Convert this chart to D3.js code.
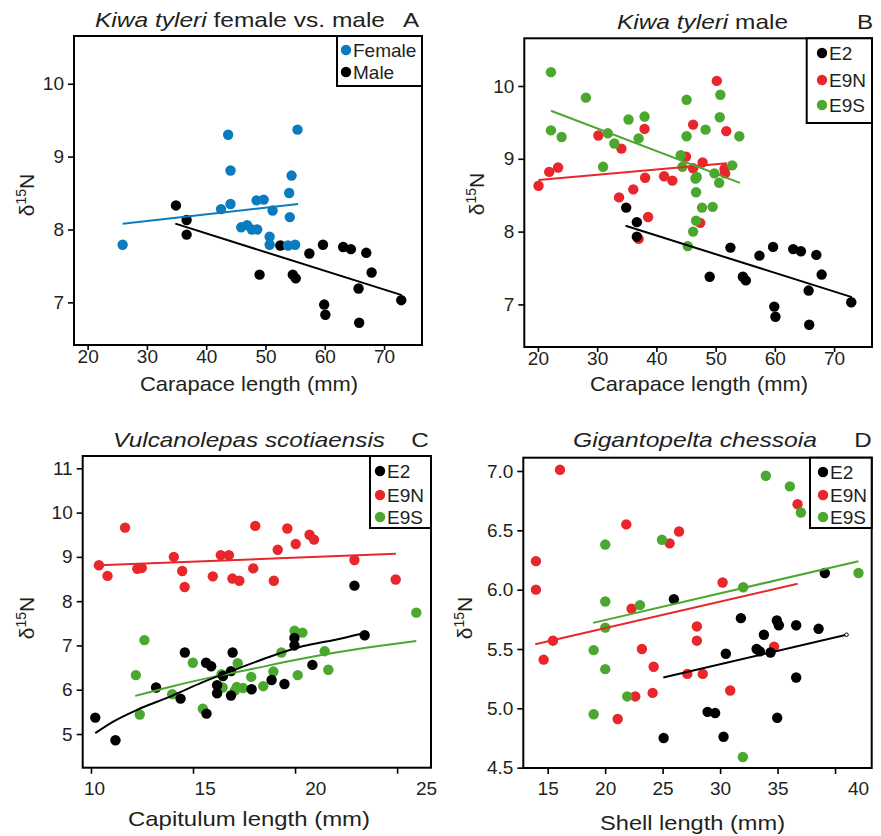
<!DOCTYPE html>
<html><head><meta charset="utf-8">
<script src="https://cdn.jsdelivr.net/npm/d3@7"></script>
<style>
body{margin:0;background:#fff;}
text{font-family:"Liberation Sans",Arial,Helvetica,sans-serif;fill:#231f20;}
</style>
</head><body>
<svg id="chart" width="881" height="836"></svg>
<script>
// ---------------- DATA ----------------
// Panel A: Kiwa tyleri female vs male  [carapace length mm, d15N]
const aFemale = [[43.7,9.30],[55.4,9.37],[44.1,8.81],[54.4,8.74],[25.9,7.79],[42.5,8.28],[44.1,8.35],[48.5,8.40],[49.7,8.41],[51.2,8.26],[54.0,8.50],[54.1,8.17],[45.9,8.03],[46.9,8.06],[47.7,8.00],[48.6,8.00],[50.7,7.90],[50.7,7.79],[53.8,7.78],[55.0,7.79]];
const aMale = [[34.9,8.33],[36.7,8.13],[36.7,7.93],[52.5,7.78],[57.4,7.67],[59.7,7.79],[63.1,7.76],[64.4,7.73],[67.0,7.68],[67.9,7.41],[49.0,7.38],[54.6,7.38],[55.1,7.33],[65.7,7.19],[72.9,7.03],[59.9,6.97],[60.1,6.83],[65.8,6.72]];
const aFemaleFit = [[25.9,8.08],[55.5,8.35]];
const aMaleFit = [[34.8,8.08],[73.0,7.10]];

// Panel B: Kiwa tyleri male by site
const bE2 = aMale;
const bE9N = [[50.2,10.07],[30.2,9.32],[34.1,9.14],[38.0,9.41],[46.2,9.47],[51.8,9.38],[45.0,9.03],[47.8,8.95],[46.2,8.87],[51.5,8.86],[51.6,8.80],[21.9,8.82],[23.4,8.88],[38.1,8.74],[41.3,8.76],[42.7,8.70],[20.1,8.63],[33.7,8.47],[36.1,8.58],[38.6,8.20],[37.0,7.90],[47.4,8.12]];
const bE9S = [[22.2,10.19],[28.1,9.84],[22.2,9.39],[24.0,9.30],[31.8,9.35],[35.3,9.54],[38.0,9.58],[37.0,9.28],[32.9,9.21],[31.0,8.89],[45.1,9.81],[50.8,9.88],[50.7,9.57],[48.3,9.40],[45.1,9.31],[54.0,9.31],[44.1,9.05],[44.4,8.89],[52.8,8.91],[49.8,8.80],[46.8,8.75],[46.6,8.73],[50.6,8.67],[46.7,8.54],[47.7,8.33],[49.5,8.34],[46.7,8.15],[46.2,8.00],[45.3,7.80]];
const bE2Fit = aMaleFit;
const bE9NFit = [[20.1,8.71],[51.9,8.94]];
const bE9SFit = [[22.2,9.66],[54.1,8.67]];

// Panel C: Vulcanolepas scotiaensis [capitulum length mm, d15N]
const cE2 = [[22.91,8.35],[19.97,7.17],[19.97,7.00],[23.41,7.23],[14.60,6.84],[16.94,6.84],[15.64,6.61],[15.89,6.53],[16.86,6.42],[20.85,6.56],[16.47,6.31],[16.18,6.10],[16.18,5.92],[16.86,5.87],[18.85,6.22],[19.48,6.13],[17.87,6.01],[13.19,6.05],[14.39,5.80],[15.66,5.46],[10.21,5.37],[11.20,4.86]];
const cE9N = [[10.39,8.81],[10.81,8.57],[11.67,9.66],[12.27,8.73],[12.49,8.75],[14.06,9.00],[14.47,8.68],[14.59,8.32],[15.97,8.56],[16.36,9.04],[16.76,9.04],[16.93,8.51],[17.27,8.46],[17.95,8.74],[18.05,9.70],[18.96,8.46],[19.15,9.16],[19.62,9.64],[20.03,9.29],[20.71,9.50],[20.93,9.39],[22.91,8.93],[24.93,8.49]];
const cE9S = [[25.94,7.74],[19.97,7.33],[20.36,7.29],[12.62,7.12],[19.33,6.84],[21.45,6.87],[14.99,6.61],[17.19,6.60],[12.20,6.33],[16.40,6.35],[18.94,6.41],[21.63,6.45],[17.85,6.29],[20.13,6.33],[13.98,5.90],[16.45,6.05],[17.14,6.06],[17.45,6.04],[18.44,6.08],[15.48,5.57],[12.39,5.44],[17.05,5.98]];
const cE2Fit = [[10.21,5.02],[11.09,5.28],[12.23,5.54],[13.85,5.84],[15.48,6.17],[17.1,6.46],[18.73,6.74],[20.36,6.98],[21.98,7.13],[23.2,7.26]];
const cE9NFit = [[10.39,8.81],[24.94,9.07]];
const cE9SFit = [[12.17,5.86],[14.0,6.08],[16.0,6.29],[18.0,6.48],[20.0,6.67],[22.0,6.84],[24.0,6.98],[25.94,7.10]];

// Panel D: Gigantopelta chessoia [shell length mm, d15N]
const dE2 = [[39.11,6.14],[25.98,5.92],[31.81,5.76],[34.94,5.74],[35.11,5.70],[36.62,5.70],[38.57,5.67],[33.81,5.62],[33.18,5.50],[33.46,5.48],[34.39,5.47],[30.50,5.46],[36.62,5.26],[28.91,4.97],[29.57,4.96],[34.97,4.92],[30.30,4.76],[25.09,4.75]];
const dE9N = [[16.07,7.01],[13.98,6.24],[13.98,6.00],[21.84,6.55],[25.61,6.39],[26.43,6.49],[36.74,6.72],[30.22,6.06],[22.30,5.84],[27.98,5.69],[27.98,5.57],[15.46,5.57],[14.65,5.41],[23.20,5.50],[24.22,5.35],[27.15,5.29],[28.49,5.29],[34.70,5.52],[30.88,5.15],[22.62,5.10],[24.13,5.13],[21.09,4.91]];
const dE9S = [[33.98,6.96],[36.07,6.87],[37.03,6.65],[20.01,6.38],[24.94,6.42],[32.01,6.02],[42.04,6.14],[20.01,5.90],[23.03,5.87],[20.01,5.68],[19.0,5.49],[20.01,5.33],[21.92,5.10],[19.0,4.95],[31.98,4.59]];
const dE2Fit = [[25.06,5.26],[41.0,5.62]];
const dE9NFit = [[13.92,5.54],[36.74,6.05]];
const dE9SFit = [[18.95,5.72],[42.04,6.24]];

// tick labels
const xTicksAB = [20,30,40,50,60,70];
const yTicksAB = [7,8,9,10];
const xTicksC = [10,15,20,25];
const yTicksC = [5,6,7,8,9,10,11];
const xTicksD = [15,20,25,30,35,40];
const yTicksD = [4.5,5.0,5.5,6.0,6.5,7.0];

const titles = ["Kiwa tyleri", "Kiwa tyleri", "Vulcanolepas scotiaensis", "Gigantopelta chessoia"];
const titleRest = [" female vs. male", " male", "", ""];
const panelLetters = ["A","B","C","D"];
const xTitles = ["Carapace length (mm)","Carapace length (mm)","Capitulum length (mm)","Shell length (mm)"];

// ---------------- STYLE ----------------
const COL = {blue:"#0b7bc1", black:"#000000", red:"#e8262b", green:"#4aa82f"};
const svg = d3.select("#chart");
const R = 5.2;

function panel(cfg){
  const g = svg.append("g");
  const x = d3.scaleLinear().domain(cfg.xDomain).range([cfg.left, cfg.right]);
  const y = d3.scaleLinear().domain(cfg.yDomain).range([cfg.bottom, cfg.top]);
  const xl = cfg.xLabelScale || x;

  // axes
  const xa = g.append("g").attr("transform",`translate(0,${cfg.bottom})`)
    .call(d3.axisBottom(x).tickValues(cfg.xTicks).tickSize(cfg.xTick||6).tickPadding(cfg.xPad).tickFormat(cfg.xFmt||d3.format("d")));
  xa.select(".domain").remove();
  xa.selectAll("line").attr("stroke","#000").attr("stroke-width",1.6);
  xa.selectAll("text").attr("font-size",19).attr("fill","#231f20")
    .attr("x", d => xl(d) - x(d) + (cfg.xLabelDx ? (cfg.xLabelDx[d]||0) : 0));

  const ya = g.append("g").attr("transform",`translate(${cfg.left},0)`)
    .call(d3.axisLeft(y).tickValues(cfg.yTicks).tickSize(6).tickPadding(4).tickFormat(cfg.yFmt||d3.format("d")));
  ya.select(".domain").remove();
  ya.selectAll("line").attr("stroke","#000").attr("stroke-width",1.6);
  ya.selectAll("text").attr("font-size",19).attr("fill","#231f20");

  // frame
  g.append("rect").attr("x",cfg.left).attr("y",cfg.top)
    .attr("width",cfg.right-cfg.left).attr("height",cfg.bottom-cfg.top)
    .attr("fill","none").attr("stroke","#000").attr("stroke-width",2);

  // points
  cfg.series.forEach(s=>{
    g.append("g").selectAll("circle").data(s.data).join("circle")
      .attr("cx",d=>x(d[0])).attr("cy",d=>y(d[1])).attr("r",R).attr("fill",s.color);
  });
  // fits
  const line = d3.line().x(d=>x(d[0])).y(d=>y(d[1])).curve(d3.curveMonotoneX);
  cfg.fits.forEach(f=>{
    g.append("path").attr("d",line(f.data)).attr("fill","none").attr("stroke",f.color).attr("stroke-width",2);
    if(f.endMarker){
      const e = f.data[f.data.length-1];
      g.append("circle").attr("cx",x(e[0])).attr("cy",y(e[1])).attr("r",1.8)
        .attr("fill","#fff").attr("stroke",f.color).attr("stroke-width",1);
    }
  });

  // legend
  const L = cfg.legend;
  g.append("rect").attr("x",L.x0).attr("y",cfg.top).attr("width",cfg.right-L.x0).attr("height",L.y1-cfg.top)
    .attr("fill","#fff").attr("stroke","#000").attr("stroke-width",2);
  L.items.forEach((it,i)=>{
    const yy = L.ys[i];
    g.append("circle").attr("cx",L.mx).attr("cy",yy).attr("r",R).attr("fill",it.color);
    g.append("text").attr("x",L.mx+7).attr("y",yy).attr("dy","0.35em").attr("font-size",19).text(it.label);
  });

  // title (stretched to the reference width)
  const t = g.append("text").attr("x",cfg.titleX0).attr("y",cfg.titleY).attr("font-size",21)
    .attr("textLength",cfg.titleW).attr("lengthAdjust","spacingAndGlyphs");
  t.append("tspan").attr("font-style","italic").text(cfg.titleItalic);
  if(cfg.titleRest) t.append("tspan").text(cfg.titleRest);
  g.append("text").attr("x",cfg.letterX).attr("y",cfg.titleY).attr("text-anchor","middle").attr("font-size",21)
    .attr("transform",`translate(${cfg.letterX},0) scale(1.15,1) translate(${-cfg.letterX},0)`).text(cfg.letter);

  // x title
  g.append("text").attr("x",cfg.xTitleX0).attr("y",cfg.xTitleY).attr("font-size",21)
    .attr("textLength",cfg.xTitleW).attr("lengthAdjust","spacingAndGlyphs").text(cfg.xTitle);
  // y title d15N
  const yt = g.append("text").attr("transform",`translate(${cfg.yTitleX},${cfg.yTitleY}) rotate(-90)`)
    .attr("text-anchor","middle").attr("font-size",21);
  yt.append("tspan").text("δ");
  yt.append("tspan").attr("font-size",14).attr("dy","-0.55em").text("15");
  yt.append("tspan").attr("dy","0.37em").text("N");
}

// Panel A
panel({
  left:74, right:422, top:36, bottom:345,
  xDomain:[17.7,76.4], yDomain:[6.415,10.655],
  xTicks:xTicksAB, yTicks:yTicksAB, xTick:5, xPad:0,
  series:[{data:aMale,color:COL.black},{data:aFemale,color:COL.blue}],
  fits:[{data:aFemaleFit,color:COL.blue},{data:aMaleFit,color:COL.black}],
  legend:{x0:337, y1:86, mx:346, ys:[50,72], items:[{label:"Female",color:COL.blue},{label:"Male",color:COL.black}]},
  titleItalic:titles[0], titleRest:titleRest[0], titleX0:95, titleW:290, titleY:27, letter:panelLetters[0], letterX:411,
  xTitle:xTitles[0], xTitleX0:140, xTitleW:218, xTitleY:391, yTitleX:34, yTitleY:195
});
// Panel B
panel({
  left:524.3, right:872, top:38.3, bottom:347,
  xDomain:[17.7,76.4], yDomain:[6.415,10.655],
  xTicks:xTicksAB, yTicks:yTicksAB, xTick:5, xPad:0,
  series:[{data:bE9N,color:COL.red},{data:bE9S,color:COL.green},{data:bE2,color:COL.black}],
  fits:[{data:bE9NFit,color:COL.red},{data:bE9SFit,color:COL.green},{data:bE2Fit,color:COL.black}],
  legend:{x0:806.7, y1:123, mx:822, ys:[53,80,105], items:[{label:"E2",color:COL.black},{label:"E9N",color:COL.red},{label:"E9S",color:COL.green}]},
  titleItalic:titles[1], titleRest:titleRest[1], titleX0:617, titleW:171, titleY:29, letter:panelLetters[1], letterX:865,
  xTitle:xTitles[1], xTitleX0:590, xTitleW:218, xTitleY:391, yTitleX:484, yTitleY:194
});
// Panel C
panel({
  left:82.7, right:431, top:456, bottom:767.7,
  xDomain:[9.595,26.66], yDomain:[4.239,11.278],
  xTicks:xTicksC, yTicks:yTicksC, xPad:8,
  xLabelScale:d3.scaleLinear().domain([10,25]).range([94,426]),
  series:[{data:cE9N,color:COL.red},{data:cE9S,color:COL.green},{data:cE2,color:COL.black}],
  fits:[{data:cE9NFit,color:COL.red},{data:cE9SFit,color:COL.green},{data:cE2Fit,color:COL.black}],
  legend:{x0:370, y1:528, mx:380, ys:[471,495,517], items:[{label:"E2",color:COL.black},{label:"E9N",color:COL.red},{label:"E9S",color:COL.green}]},
  titleItalic:titles[2], titleRest:"", titleX0:113, titleW:272, titleY:447, letter:panelLetters[2], letterX:420,
  xTitle:xTitles[2], xTitleX0:128, xTitleW:242, xTitleY:826, yTitleX:34, yTitleY:618
});
// Panel D
panel({
  left:523.3, right:871.7, top:457.7, bottom:768,
  xDomain:[12.88,43.19], yDomain:[4.497,7.112],
  xTicks:xTicksD, yTicks:yTicksD, xPad:8, yFmt:d3.format(".1f"),
  xLabelDx:{40:23},
  series:[{data:dE9N,color:COL.red},{data:dE9S,color:COL.green},{data:dE2,color:COL.black}],
  fits:[{data:dE9NFit,color:COL.red},{data:dE9SFit,color:COL.green},{data:dE2Fit,color:COL.black,endMarker:true}],
  legend:{x0:810, y1:528, mx:823, ys:[472,495,517], items:[{label:"E2",color:COL.black},{label:"E9N",color:COL.red},{label:"E9S",color:COL.green}]},
  titleItalic:titles[3], titleRest:"", titleX0:573, titleW:244, titleY:447, letter:panelLetters[3], letterX:863,
  xTitle:xTitles[3], xTitleX0:600, xTitleW:185, xTitleY:830, yTitleX:472, yTitleY:618
});
</script>
</body></html>
